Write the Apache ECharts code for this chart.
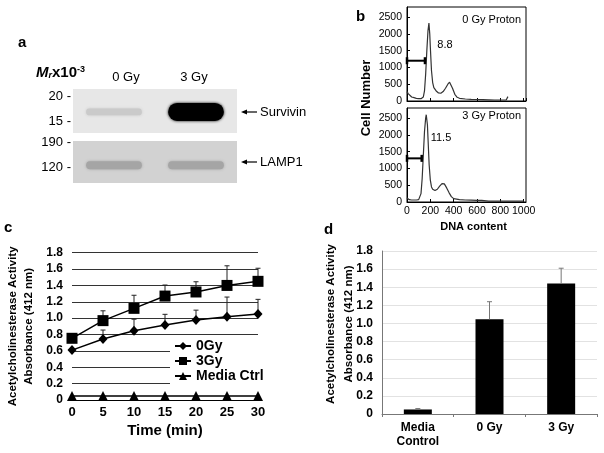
<!DOCTYPE html>
<html><head><meta charset="utf-8">
<script src="https://cdn.jsdelivr.net/npm/echarts@6/dist/echarts.min.js"></script>
<style>html,body{margin:0;padding:0;background:#fff}#c{width:604px;height:453px}</style>
</head><body><div id="c"></div><script>
// ---------- panel a: western blot ----------
const blotLanes = ['0 Gy', '3 Gy'];
const survivinIntensity = [0.14, 1.0];
const lamp1Intensity = [0.3, 0.3];
const mwUpper = ['20 -', '15 -'];
const mwLower = ['190 -', '120 -'];
const bandNames = ['Survivin', 'LAMP1'];
// ---------- panel b: DNA histograms ----------
const dnaX0 = [0,10,20,40,60,80,100,120,130,140,150,160,170,180,188,195,200,210,220,230,250,270,290,310,330,350,365,375,390,410,430,450,500,550,600,650,700,750,800,850,860,865];
const cnt0  = [280,220,170,120,100,80,70,70,80,120,300,800,1500,2100,2320,2000,1600,900,550,400,300,240,230,280,380,500,560,530,380,200,110,80,60,50,45,40,35,30,30,30,60,130];
const dnaX3 = [0,10,20,40,60,80,100,110,120,130,140,150,160,165,170,175,180,190,200,210,220,240,260,280,300,310,320,340,360,380,400,450,500,550,600,640,650,700,800,900,1000];
const cnt3  = [120,80,70,60,60,60,70,100,250,700,1400,2100,2500,2600,2550,2300,1900,1100,650,450,380,340,380,470,550,570,540,420,280,160,100,70,60,55,50,50,30,25,25,25,25];
const gateLevel = [1200, 1300];
const gateEnd = [154, 126];
const gatePct = ['8.8', '11.5'];
const histTitles = ['0 Gy Proton', '3 Gy Proton'];
// ---------- panel c: time course ----------
const timeMin = [0,5,10,15,20,25,30];
const ache0   = [0.61,0.745,0.847,0.917,0.978,1.018,1.05];
const ache0Err= [0,0.11,0.14,0.13,0.12,0.24,0.18];
const ache3   = [0.754,0.97,1.12,1.27,1.32,1.40,1.45];
const ache3Err= [0,0.12,0.16,0.135,0.125,0.24,0.16];
const acheMedia = [0.05,0.05,0.05,0.05,0.05,0.05,0.05];
// ---------- panel d: bars ----------
const dCats = ['Media\nControl', '0 Gy', '3 Gy'];
const dMeans = [0.05, 1.045, 1.44];
const dErr = [0.01, 0.195, 0.17];

const F = '"Liberation Sans", Arial, sans-serif';
const chart = echarts.init(document.getElementById('c'), null, {renderer: 'canvas'});

function bandRenderer(rowFrac, hBase, hGain) {
  return function (params, api) {
    const lane = api.value(0), inten = api.value(1);
    const c = api.coord([lane + 0.5, rowFrac]);
    const laneW = api.size([1, 0])[0];
    const w = laneW * 0.68, h = hBase + hGain * inten;
    const g = Math.round(235 * (1 - inten));
    const col = 'rgb(' + g + ',' + g + ',' + g + ')';
    return {type: 'rect', shape: {x: c[0] - w / 2, y: c[1] - h / 2, width: w, height: h, r: h / 2},
      style: {fill: col, shadowBlur: 3, shadowColor: col}};
  };
}
function errRenderer(color, cap) {
  return function (params, api) {
    const p1 = api.coord([api.value(0), api.value(1)]);
    const p2 = api.coord([api.value(0), api.value(2)]);
    if (Math.abs(p1[1] - p2[1]) < 0.5) return null;
    return {type: 'group', children: [
      {type: 'line', shape: {x1: p1[0], y1: p1[1], x2: p2[0], y2: p2[1]}, style: {stroke: color, lineWidth: 1}},
      {type: 'line', shape: {x1: p2[0] - cap, y1: p2[1], x2: p2[0] + cap, y2: p2[1]}, style: {stroke: color, lineWidth: 1}}
    ]};
  };
}
function txt(x, y, s, o) {
  o = o || {};
  return {type: 'text', x: x, y: y, rotation: o.rot || 0, z: 10, style: Object.assign({
    text: s, fontFamily: F, fontSize: o.size || 13, fontWeight: o.bold ? 'bold' : 'normal',
    fill: '#000', align: o.align || 'left', verticalAlign: 'middle',
    textAlign: o.align || 'left', textVerticalAlign: 'middle'}, o.style || {})};
}
function arrow(x1, x2, y) {
  return [
    {type: 'line', z: 10, shape: {x1: x1 + 3, y1: y, x2: x2, y2: y}, style: {stroke: '#000', lineWidth: 1.2}},
    {type: 'polygon', z: 10, shape: {points: [[x1, y], [x1 + 6, y - 2.6], [x1 + 6, y + 2.6]]}, style: {fill: '#000'}}
  ];
}
const fmt1 = v => v === 0 ? '0' : v.toFixed(1);
const fmtPlain = v => String(v);

const hiddenAxis = (gi, max) => ({gridIndex: gi, type: 'value', min: 0, max: max, show: false});
const bXAxis = (gi, showLabel) => ({
  gridIndex: gi, type: 'value', min: 0, max: 1020, interval: 200,
  axisLine: {show: true, lineStyle: {color: '#000', width: 1}},
  axisTick: {show: true, inside: true, length: 3, lineStyle: {color: '#000'}},
  axisLabel: {show: showLabel, showMaxLabel: false, formatter: fmtPlain, fontSize: 10.5, color: '#000', margin: 4, fontFamily: F},
  splitLine: {show: false},
  name: showLabel ? 'DNA content' : '', nameLocation: 'middle', nameGap: 19, nameMoveOverlap: false,
  nameTextStyle: {fontSize: 11, fontWeight: 'bold', color: '#000', fontFamily: F, padding: [0, 0, 0, 14]}
});
const bYAxis = gi => ({
  gridIndex: gi, type: 'value', min: 0, max: 2800, interval: 500,
  axisLine: {show: true, lineStyle: {color: '#000', width: 1}},
  axisTick: {show: true, inside: true, length: 3, lineStyle: {color: '#000'}},
  axisLabel: {showMaxLabel: false, formatter: fmtPlain, fontSize: 10.5, color: '#000', margin: 5, fontFamily: F},
  splitLine: {show: false}
});

const graphic = [
  txt(18, 43, 'a', {size: 15, bold: true}),
  {type: 'text', x: 36, y: 73, z: 10, style: {
    text: '{m|M}{s|r}{b|x10}{p|-3}', fontFamily: F, verticalAlign: 'middle', textVerticalAlign: 'middle',
    rich: {
      m: {fontSize: 15, fontWeight: 'bold', fontStyle: 'italic', fontFamily: F, verticalAlign: 'bottom'},
      s: {fontSize: 9, fontWeight: 'bold', fontStyle: 'italic', fontFamily: F, verticalAlign: 'bottom'},
      b: {fontSize: 15, fontWeight: 'bold', fontFamily: F, verticalAlign: 'bottom'},
      p: {fontSize: 9, fontWeight: 'bold', fontFamily: F, verticalAlign: 'top'}
    }}},
  txt(126, 77, blotLanes[0], {align: 'center'}),
  txt(194, 77, blotLanes[1], {align: 'center'}),
  txt(71, 96, mwUpper[0], {align: 'right'}),
  txt(71, 121.7, mwUpper[1], {align: 'right'}),
  txt(71, 142.5, mwLower[0], {align: 'right'}),
  txt(71, 167.3, mwLower[1], {align: 'right'}),
  ...arrow(241, 257, 112),
  txt(260, 112, bandNames[0]),
  ...arrow(241, 257, 162),
  txt(260, 162, bandNames[1]),
  // panel b
  txt(356, 17, 'b', {size: 15, bold: true}),
  txt(366, 98, 'Cell Number', {size: 13, bold: true, align: 'center', rot: Math.PI / 2}),
  txt(521, 20, histTitles[0], {size: 11, align: 'right'}),
  txt(521, 116, histTitles[1], {size: 11, align: 'right'}),
  txt(445, 45, gatePct[0], {size: 11, align: 'center'}),
  txt(441, 138, gatePct[1], {size: 11, align: 'center'}),
  // panel c, d labels
  txt(4, 228, 'c', {size: 15, bold: true}),
  txt(324, 230, 'd', {size: 15, bold: true})
];

const option = {
  animation: false,
  backgroundColor: '#fff',
  textStyle: {fontFamily: F},
  grid: [
    {left: 73, top: 89, width: 164, height: 44, show: true, backgroundColor: '#e7e7e7', borderWidth: 0, outerBoundsMode: 'none'},
    {left: 73, top: 141, width: 164, height: 42, show: true, backgroundColor: '#d2d2d2', borderWidth: 0, outerBoundsMode: 'none'},
    {left: 407, top: 7, width: 119, height: 94, show: true, backgroundColor: 'transparent', borderColor: '#000', borderWidth: 1, outerBoundsMode: 'none'},
    {left: 407, top: 108, width: 119, height: 94, show: true, backgroundColor: 'transparent', borderColor: '#000', borderWidth: 1, outerBoundsMode: 'none'},
    {left: 72, top: 252.7, width: 186, height: 147.3, outerBoundsMode: 'none'},
    {left: 382, top: 251, width: 215, height: 163, outerBoundsMode: 'none'}
  ],
  xAxis: [
    hiddenAxis(0, 2), hiddenAxis(1, 2),
    bXAxis(2, false), bXAxis(3, true),
    {gridIndex: 4, type: 'value', min: 0, max: 30, interval: 5,
      axisLine: {show: true, lineStyle: {color: '#000', width: 1}}, axisTick: {show: false},
      axisLabel: {fontSize: 13, fontWeight: 'bold', color: '#000', margin: 6, fontFamily: F},
      splitLine: {show: false},
      name: 'Time (min)', nameLocation: 'middle', nameGap: 23, nameMoveOverlap: false,
      nameTextStyle: {fontSize: 15, fontWeight: 'bold', color: '#000', fontFamily: F}},
    {gridIndex: 5, type: 'category', data: dCats,
      axisLine: {show: true, lineStyle: {color: '#777', width: 1}},
      axisTick: {show: true, length: 3, lineStyle: {color: '#777'}},
      axisLabel: {fontSize: 12, fontWeight: 'bold', color: '#000', margin: 7, lineHeight: 14, fontFamily: F}}
  ],
  yAxis: [
    hiddenAxis(0, 1), hiddenAxis(1, 1),
    bYAxis(2), bYAxis(3),
    {gridIndex: 4, type: 'value', min: 0, max: 1.8, interval: 0.2,
      axisLine: {show: false}, axisTick: {show: false},
      axisLabel: {formatter: fmt1, fontSize: 12, fontWeight: 'bold', color: '#000', margin: 9, fontFamily: F},
      splitLine: {show: true, lineStyle: {color: '#333', width: 1}},
      name: 'Acetylcholinesterase Activity\nAbsorbance (412 nm)', nameLocation: 'middle', nameRotate: 90,
      nameGap: 35, nameMoveOverlap: false,
      nameTextStyle: {fontSize: 11.5, fontWeight: 'bold', color: '#000', lineHeight: 16, align: 'center', fontFamily: F}},
    {gridIndex: 5, type: 'value', min: 0, max: 1.8, interval: 0.2,
      axisLine: {show: true, lineStyle: {color: '#777', width: 1}}, axisTick: {show: false},
      axisLabel: {formatter: fmt1, fontSize: 12, fontWeight: 'bold', color: '#000', margin: 9, fontFamily: F},
      splitLine: {show: true, lineStyle: {color: '#e2e2e2', width: 1}},
      name: 'Acetylcholinesterase Activity\nAbsorbance (412 nm)', nameLocation: 'middle', nameRotate: 90,
      nameGap: 24, nameMoveOverlap: false,
      nameTextStyle: {fontSize: 11.5, fontWeight: 'bold', color: '#000', lineHeight: 18, align: 'center', fontFamily: F, padding: [0, 0, 0, 17]}}
  ],
  legend: {
    data: ['0Gy', '3Gy', 'Media Ctrl'], orient: 'vertical', left: 170, top: 337,
    itemWidth: 16, itemHeight: 10, itemGap: 1, backgroundColor: '#fff', padding: [2, 6, 2, 4],
    textStyle: {fontSize: 14, fontWeight: 'bold', color: '#000', fontFamily: F}
  },
  series: [
    {type: 'custom', name: 'survivin', xAxisIndex: 0, yAxisIndex: 0, renderItem: bandRenderer(0.48, 5, 13),
      data: survivinIntensity.map((v, i) => [i, v])},
    {type: 'custom', name: 'lamp1', xAxisIndex: 1, yAxisIndex: 1, renderItem: bandRenderer(0.42, 8, 0),
      data: lamp1Intensity.map((v, i) => [i, v])},
    {type: 'line', name: 'hist0', xAxisIndex: 2, yAxisIndex: 2, symbol: 'none',
      lineStyle: {color: '#333', width: 1.2}, data: dnaX0.map((x, i) => [x, cnt0[i]])},
    {type: 'line', name: 'gate0', xAxisIndex: 2, yAxisIndex: 2, symbol: 'rect', symbolSize: [2.5, 7],
      lineStyle: {color: '#000', width: 2}, itemStyle: {color: '#000'},
      data: [[0, gateLevel[0]], [gateEnd[0], gateLevel[0]]]},
    {type: 'line', name: 'hist3', xAxisIndex: 3, yAxisIndex: 3, symbol: 'none',
      lineStyle: {color: '#333', width: 1.2}, data: dnaX3.map((x, i) => [x, cnt3[i]])},
    {type: 'line', name: 'gate3', xAxisIndex: 3, yAxisIndex: 3, symbol: 'rect', symbolSize: [2.5, 7],
      lineStyle: {color: '#000', width: 2}, itemStyle: {color: '#000'},
      data: [[0, gateLevel[1]], [gateEnd[1], gateLevel[1]]]},
    {type: 'custom', name: 'err0', xAxisIndex: 4, yAxisIndex: 4, z: 1, renderItem: errRenderer('#222', 2.5),
      data: timeMin.map((t, i) => [t, ache0[i], ache0[i] + ache0Err[i]])},
    {type: 'custom', name: 'err3', xAxisIndex: 4, yAxisIndex: 4, z: 1, renderItem: errRenderer('#222', 2.5),
      data: timeMin.map((t, i) => [t, ache3[i], ache3[i] + ache3Err[i]])},
    {type: 'line', name: '0Gy', xAxisIndex: 4, yAxisIndex: 4, symbol: 'diamond', symbolSize: [9, 10],
      lineStyle: {color: '#000', width: 1.5}, itemStyle: {color: '#000'},
      data: timeMin.map((t, i) => [t, ache0[i]])},
    {type: 'line', name: '3Gy', xAxisIndex: 4, yAxisIndex: 4, symbol: 'rect', symbolSize: 11,
      lineStyle: {color: '#000', width: 1.5}, itemStyle: {color: '#000'},
      data: timeMin.map((t, i) => [t, ache3[i]])},
    {type: 'line', name: 'Media Ctrl', xAxisIndex: 4, yAxisIndex: 4, symbol: 'triangle', symbolSize: 10,
      lineStyle: {color: '#000', width: 1.5}, itemStyle: {color: '#000'},
      data: timeMin.map((t, i) => [t, acheMedia[i]])},
    {type: 'bar', name: 'bars', xAxisIndex: 5, yAxisIndex: 5, barWidth: 28, itemStyle: {color: '#000'},
      data: dMeans},
    {type: 'custom', name: 'errd', xAxisIndex: 5, yAxisIndex: 5, z: 3, renderItem: errRenderer('#777', 2.5),
      data: dMeans.map((m, i) => [i, m, m + dErr[i]])}
  ],
  graphic: graphic
};
chart.setOption(option);
</script></body></html>
